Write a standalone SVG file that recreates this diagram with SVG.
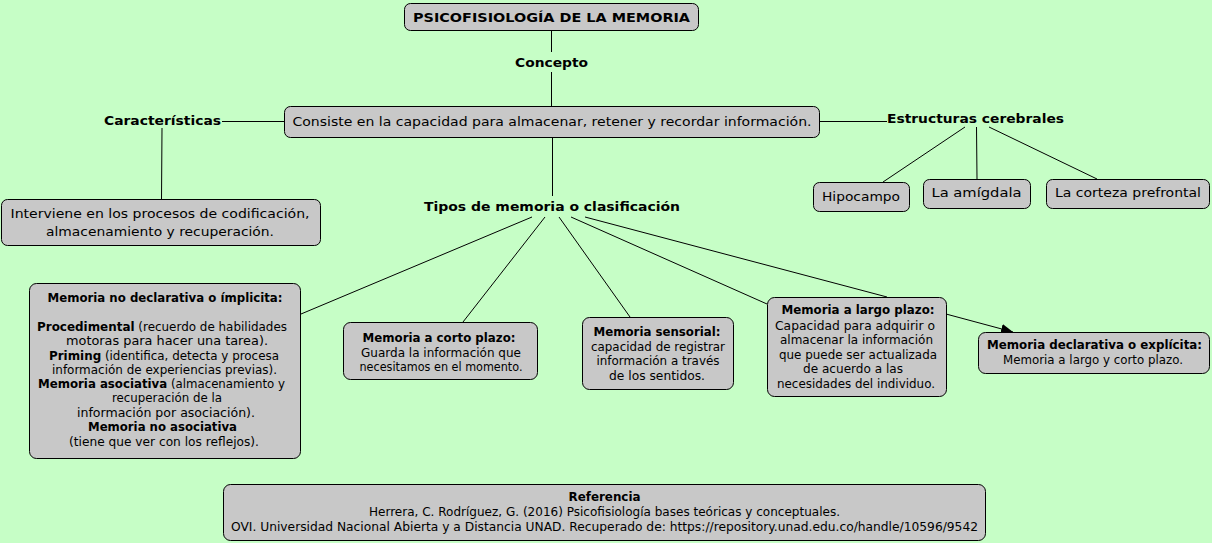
<svg xmlns="http://www.w3.org/2000/svg" width="1212" height="543" viewBox="0 0 1212 543">
<style>
.bg{fill:#c6fec6}
.box{fill:#c8c8c8;stroke:#000;stroke-width:1}
.ln{stroke:#000;stroke-width:1;fill:none}
text{font-family:"DejaVu Sans",Verdana,sans-serif;fill:#000;text-anchor:middle}
.b{font-weight:bold}
.t13{font-size:13px}
.t11{font-size:11.5px}
.ref{font-size:12px}
</style>
<defs>
<marker id="arr" viewBox="0 0 12 10" refX="12" refY="5" markerWidth="12" markerHeight="10" markerUnits="userSpaceOnUse" orient="auto">
<path d="M0,0 L12,5 L0,10 z" fill="#000"/>
</marker>
</defs>
<rect class="bg" x="0" y="0" width="1212" height="543"/>
<g id="connectors">
<line class="ln" x1="551.5" y1="30" x2="551.5" y2="52"/>
<line class="ln" x1="551.5" y1="72" x2="551.5" y2="106"/>
<line class="ln" x1="284" y1="121.5" x2="222" y2="121.5"/>
<line class="ln" x1="162" y1="128" x2="161.5" y2="199"/>
<line class="ln" x1="820" y1="121.5" x2="887" y2="121.5"/>
<line class="ln" x1="965" y1="127" x2="883" y2="182"/>
<line class="ln" x1="976.5" y1="127" x2="977" y2="179"/>
<line class="ln" x1="989" y1="127" x2="1097" y2="179"/>
<line class="ln" x1="552.5" y1="137" x2="552.5" y2="196"/>
<line class="ln" x1="532" y1="217" x2="301" y2="314"/>
<line class="ln" x1="545" y1="217" x2="463" y2="322"/>
<line class="ln" x1="559" y1="217" x2="630" y2="317"/>
<line class="ln" x1="571" y1="217" x2="767" y2="304"/>
<line class="ln" x1="585" y1="217" x2="887" y2="297"/>
<line class="ln" x1="946" y1="314" x2="1013" y2="332" marker-end="url(#arr)"/>
</g>
<g id="n-title">
<rect class="box" x="404.5" y="3.5" width="294" height="27" rx="6"/>
<text class="b t13" x="551.5" y="22" textLength="277" lengthAdjust="spacingAndGlyphs">PSICOFISIOLOGÍA DE LA MEMORIA</text>
</g>
<g id="l-concepto"><text class="b t13" x="551.5" y="67" textLength="73" lengthAdjust="spacingAndGlyphs">Concepto</text></g>
<g id="n-concepto">
<rect class="box" x="284.5" y="106.5" width="535" height="31" rx="6"/>
<text class="t13" x="552" y="126" textLength="519" lengthAdjust="spacingAndGlyphs">Consiste en la capacidad para almacenar, retener y recordar información.</text>
</g>
<g id="l-caract"><text class="b t13" x="162.5" y="125" textLength="117" lengthAdjust="spacingAndGlyphs">Características</text></g>
<g id="n-interviene">
<rect class="box" x="1.5" y="199.5" width="319" height="46" rx="6"/>
<text class="t13" x="160" y="218" textLength="299" lengthAdjust="spacingAndGlyphs">Interviene en los procesos de codificación,</text>
<text class="t13" x="160" y="236" textLength="228" lengthAdjust="spacingAndGlyphs">almacenamiento y recuperación.</text>
</g>
<g id="l-estructuras"><text class="b t13" x="975.5" y="123" textLength="177" lengthAdjust="spacingAndGlyphs">Estructuras cerebrales</text></g>
<g id="n-hipocampo">
<rect class="box" x="813.5" y="182.5" width="96" height="29" rx="6"/>
<text class="t13" x="861" y="201" textLength="78" lengthAdjust="spacingAndGlyphs">Hipocampo</text>
</g>
<g id="n-amigdala">
<rect class="box" x="923.5" y="179.5" width="107" height="29" rx="6"/>
<text class="t13" x="976.5" y="197" textLength="90" lengthAdjust="spacingAndGlyphs">La amígdala</text>
</g>
<g id="n-corteza">
<rect class="box" x="1046.5" y="179.5" width="163" height="29" rx="6"/>
<text class="t13" x="1128" y="197" textLength="146" lengthAdjust="spacingAndGlyphs">La corteza prefrontal</text>
</g>
<g id="l-tipos"><text class="b t13" x="552" y="211" textLength="256" lengthAdjust="spacingAndGlyphs">Tipos de memoria o clasificación</text></g>
<g id="n-nodeclarativa">
<rect class="box" x="29.5" y="283.5" width="271" height="175" rx="7"/>
<text class="b t11" x="165" y="302" textLength="235" lengthAdjust="spacingAndGlyphs">Memoria no declarativa o ímplicita:</text>
<text class="t11" x="162" y="331" textLength="250" lengthAdjust="spacingAndGlyphs"><tspan class="b">Procedimental</tspan> (recuerdo de habilidades</text>
<text class="t11" x="167" y="345" textLength="202" lengthAdjust="spacingAndGlyphs">motoras para hacer una tarea).</text>
<text class="t11" x="164" y="360" textLength="230" lengthAdjust="spacingAndGlyphs"><tspan class="b">Priming</tspan> (identifica, detecta y procesa</text>
<text class="t11" x="164.5" y="374" textLength="225" lengthAdjust="spacingAndGlyphs">información de experiencias previas).</text>
<text class="t11" x="161.5" y="388" textLength="247" lengthAdjust="spacingAndGlyphs"><tspan class="b">Memoria asociativa</tspan> (almacenamiento y</text>
<text class="t11" x="167" y="402" textLength="110" lengthAdjust="spacingAndGlyphs">recuperación de la</text>
<text class="t11" x="166" y="417" textLength="178" lengthAdjust="spacingAndGlyphs">información por asociación).</text>
<text class="b t11" x="162.5" y="431" textLength="149" lengthAdjust="spacingAndGlyphs">Memoria no asociativa</text>
<text class="t11" x="164" y="446" textLength="190" lengthAdjust="spacingAndGlyphs">(tiene que ver con los reflejos).</text>
</g>
<g id="n-corto">
<rect class="box" x="343.5" y="322.5" width="194" height="57" rx="7"/>
<text class="b t11" x="439" y="342" textLength="153" lengthAdjust="spacingAndGlyphs">Memoria a corto plazo:</text>
<text class="t11" x="441" y="357" textLength="160" lengthAdjust="spacingAndGlyphs">Guarda la información que</text>
<text class="t11" x="441" y="371" textLength="163" lengthAdjust="spacingAndGlyphs">necesitamos en el momento.</text>
</g>
<g id="n-sensorial">
<rect class="box" x="582.5" y="317.5" width="151" height="72" rx="7"/>
<text class="b t11" x="657" y="336" textLength="127" lengthAdjust="spacingAndGlyphs">Memoria sensorial:</text>
<text class="t11" x="658" y="351" textLength="134" lengthAdjust="spacingAndGlyphs">capacidad de registrar</text>
<text class="t11" x="658" y="365" textLength="123" lengthAdjust="spacingAndGlyphs">información a través</text>
<text class="t11" x="657" y="380" textLength="96" lengthAdjust="spacingAndGlyphs">de los sentidos.</text>
</g>
<g id="n-largo">
<rect class="box" x="767.5" y="297.5" width="179" height="99" rx="7"/>
<text class="b t11" x="858" y="314" textLength="153" lengthAdjust="spacingAndGlyphs">Memoria a largo plazo:</text>
<text class="t11" x="855" y="330" textLength="160" lengthAdjust="spacingAndGlyphs">Capacidad para adquirir o</text>
<text class="t11" x="856.5" y="344" textLength="153" lengthAdjust="spacingAndGlyphs">almacenar la información</text>
<text class="t11" x="858" y="359" textLength="158" lengthAdjust="spacingAndGlyphs">que puede ser actualizada</text>
<text class="t11" x="853" y="373" textLength="100" lengthAdjust="spacingAndGlyphs">de acuerdo a las</text>
<text class="t11" x="856" y="388" textLength="158" lengthAdjust="spacingAndGlyphs">necesidades del individuo.</text>
</g>
<g id="n-declarativa">
<rect class="box" x="978.5" y="332.5" width="231" height="41" rx="7"/>
<text class="b t11" x="1094.5" y="349" textLength="215" lengthAdjust="spacingAndGlyphs">Memoria declarativa o explícita:</text>
<text class="t11" x="1093" y="364" textLength="180" lengthAdjust="spacingAndGlyphs">Memoria a largo y corto plazo.</text>
</g>
<g id="n-referencia">
<rect class="box" x="223.5" y="484.5" width="762" height="56" rx="7"/>
<text class="b ref" x="604.5" y="501" textLength="72" lengthAdjust="spacingAndGlyphs">Referencia</text>
<text class="ref" x="604.5" y="516" textLength="471" lengthAdjust="spacingAndGlyphs">Herrera, C. Rodríguez, G. (2016) Psicofisiología bases teóricas y conceptuales.</text>
<text class="ref" x="604.5" y="531" textLength="747" lengthAdjust="spacingAndGlyphs">OVI. Universidad Nacional Abierta y a Distancia UNAD. Recuperado de: https://repository.unad.edu.co/handle/10596/9542</text>
</g>
</svg>
